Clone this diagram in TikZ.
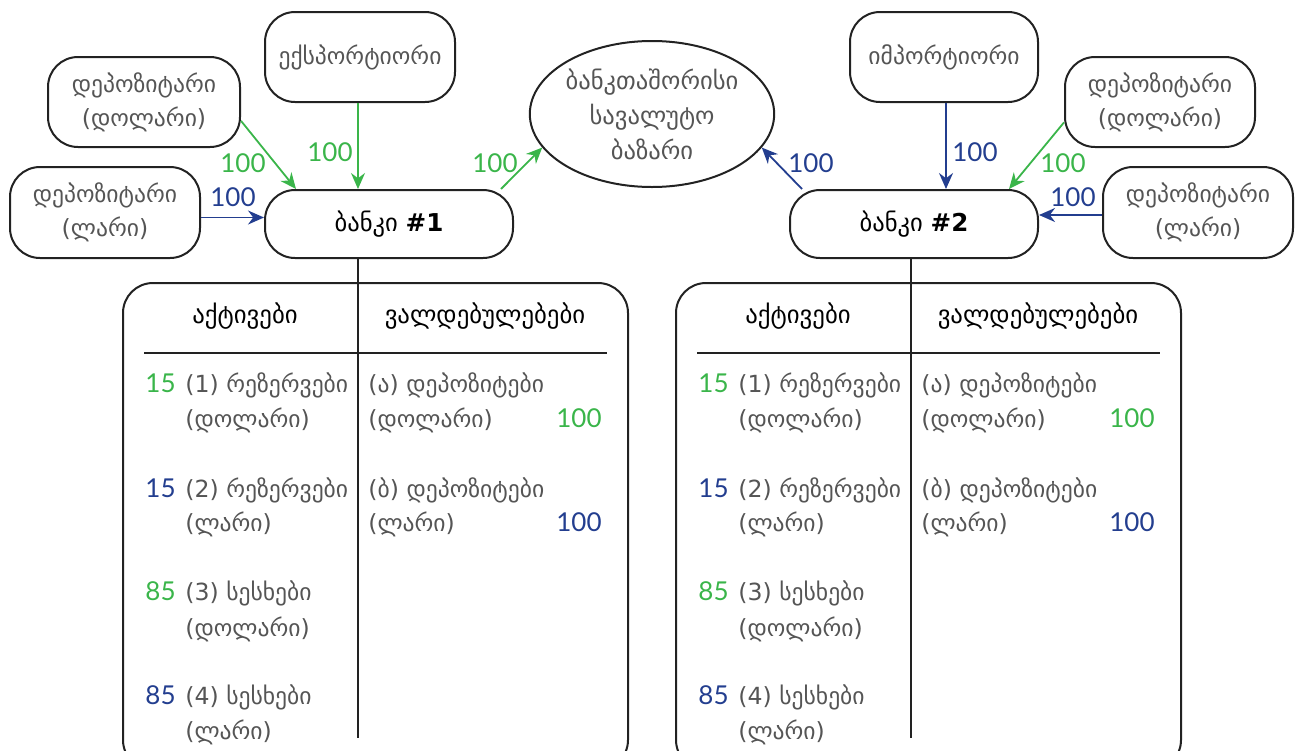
\documentclass[tikz,border=0pt]{standalone}
\usepackage{fontspec}
\setmainfont{DejaVu Sans}
\newfontfamily\digitfont{Lato}
\usetikzlibrary{arrows.meta,shapes.geometric}
\definecolor{grn}{HTML}{3AB54A}
\definecolor{blu}{HTML}{233E8F}
\definecolor{txt}{HTML}{555555}
\definecolor{edge}{HTML}{222222}
\tikzset{
  box/.style={draw=edge, line width=1pt, rounded corners=15pt, align=center,
    text=txt, inner sep=0pt, font=\fontsize{11.8}{17}\selectfont},
  bank/.style={box, text=black, minimum width=124pt, minimum height=34pt,
    font=\fontsize{12.3}{17}\selectfont},
  arr/.style={-{Stealth[length=8pt,width=7pt]}, line width=0.9pt},
  num/.style={font=\fontsize{13}{16}\selectfont\digitfont, inner sep=0pt},
  lbl/.style={font=\fontsize{11.8}{16}\selectfont, text=txt, inner sep=0pt, anchor=base west},
  head/.style={font=\fontsize{12.4}{16}\selectfont, text=black, inner sep=0pt},
  rule/.style={draw=edge, line width=1pt}
}
\begin{document}
\begin{tikzpicture}[x=0.5pt,y=-0.5pt]
\useasboundingbox (0,0) rectangle (1296,750);
\clip (0,0) rectangle (1296,750);

% upper boxes
\node[box, minimum width=96pt, minimum height=45pt] (dd1) at (144,102) {დეპოზიტარი\\(დოლარი)};
\node[box, minimum width=95pt, minimum height=45.5pt] (dl1) at (105,212.5) {დეპოზიტარი\\(ლარი)};
\node[box, minimum width=95pt, minimum height=45pt] (exp) at (360,57) {ექსპორტიორი};
\node[bank] (b1) at (389,224) {ბანკი \textbf{\#1}};
\node[draw=edge, line width=1pt, ellipse, minimum width=117.5pt, minimum height=73pt,
      inner sep=0pt, align=center, text=txt, font=\fontsize{12.3}{17.5}\selectfont]
      (mkt) at (652,114) {ბანკთაშორისი\\სავალუტო\\ბაზარი};
\node[box, minimum width=94pt, minimum height=45pt] (imp) at (944,57) {იმპორტიორი};
\node[box, minimum width=95pt, minimum height=45pt] (dd2) at (1160,102) {დეპოზიტარი\\(დოლარი)};
\node[box, minimum width=95pt, minimum height=45.5pt] (dl2) at (1198,212.5) {დეპოზიტარი\\(ლარი)};
\node[bank] (b2) at (914,224) {ბანკი \textbf{\#2}};

% flows into and out of bank #1
\draw[arr, grn] (dd1.-11) -- ([xshift=16pt]b1.north west);
\draw[arr, blu] ([yshift=-2.5pt]dl1.east) -- ([yshift=-2.5pt]dl1.east -| b1.west);
\draw[arr, grn] ([xshift=-1pt]exp.south) -- ([xshift=-1pt]exp.south |- b1.north);
\draw[arr, grn] ([xshift=-6.5pt]b1.north east) -- (mkt.197);
\node[num, text=grn] (l1) at (243,163) {100};
\node[num, text=blu] (l2) at (233,197) {100};
\node[num, text=grn] (l3) at (330,152) {100};
\node[num, text=grn] (l4) at (495,163) {100};

% flows into and out of bank #2
\draw[arr, blu] ([xshift=6.5pt]b2.north west) -- (mkt.-17);
\draw[arr, blu] ([xshift=1pt]imp.south) -- ([xshift=1pt]imp.south |- b2.north);
\draw[arr, grn] (dd2.192) -- ([xshift=-15pt]b2.north east);
\draw[arr, blu] ([yshift=-1.25pt]dl2.west) -- ([yshift=-1.25pt]dl2.west -| b2.east);
\node[num, text=blu] (l5) at (811,163) {100};
\node[num, text=blu] (l6) at (975,152) {100};
\node[num, text=grn] (l7) at (1063,163) {100};
\node[num, text=blu] (l8) at (1073,197) {100};

% balance sheets
\foreach \dx/\bk in {0/b1, 553/b2} {
  \begin{scope}[xshift=\dx*0.5pt]
    \draw[rule, rounded corners=15pt] (123,283) rectangle (628,770);
    \coordinate (top\bk) at (358,258);
    \coordinate (bot\bk) at (358,738);
    \draw[rule] (top\bk) -- (bot\bk);
    \coordinate (rl\bk) at (144,353);
    \coordinate (rr\bk) at (607,353);
    \draw[rule] (rl\bk) -- (rr\bk);
    \node[head] (ha\bk) at (245,316) {აქტივები};
    \node[head] (hl\bk) at (485,316) {ვალდებულებები};
    % assets
    \node[num, text=grn, anchor=base east] (n1\bk) at (176,392) {15};
    \node[lbl] (a1\bk) at (185,392) {(1) რეზერვები};
    \node[lbl] (c1\bk) at (185,427) {(დოლარი)};
    \node[num, text=blu, anchor=base east] (n2\bk) at (176,497) {15};
    \node[lbl] (a2\bk) at (185,497) {(2) რეზერვები};
    \node[lbl] (c2\bk) at (185,531) {(ლარი)};
    \node[num, text=grn, anchor=base east] (n3\bk) at (176,600) {85};
    \node[lbl] (a3\bk) at (185,600) {(3) სესხები};
    \node[lbl] (c3\bk) at (185,636) {(დოლარი)};
    \node[num, text=blu, anchor=base east] (n4\bk) at (176,704) {85};
    \node[lbl] (a4\bk) at (185,704) {(4) სესხები};
    \node[lbl] (c4\bk) at (185,739) {(ლარი)};
    % liabilities
    \node[lbl] (la\bk) at (368,392) {(ა) დეპოზიტები};
    \node[lbl] (lc\bk) at (368,427) {(დოლარი)};
    \node[num, text=grn, anchor=base east] (m1\bk) at (602,427) {100};
    \node[lbl] (lb\bk) at (368,497) {(ბ) დეპოზიტები};
    \node[lbl] (ld\bk) at (368,531) {(ლარი)};
    \node[num, text=blu, anchor=base east] (m2\bk) at (602,531) {100};
  \end{scope}
}
\end{tikzpicture}
\end{document}
